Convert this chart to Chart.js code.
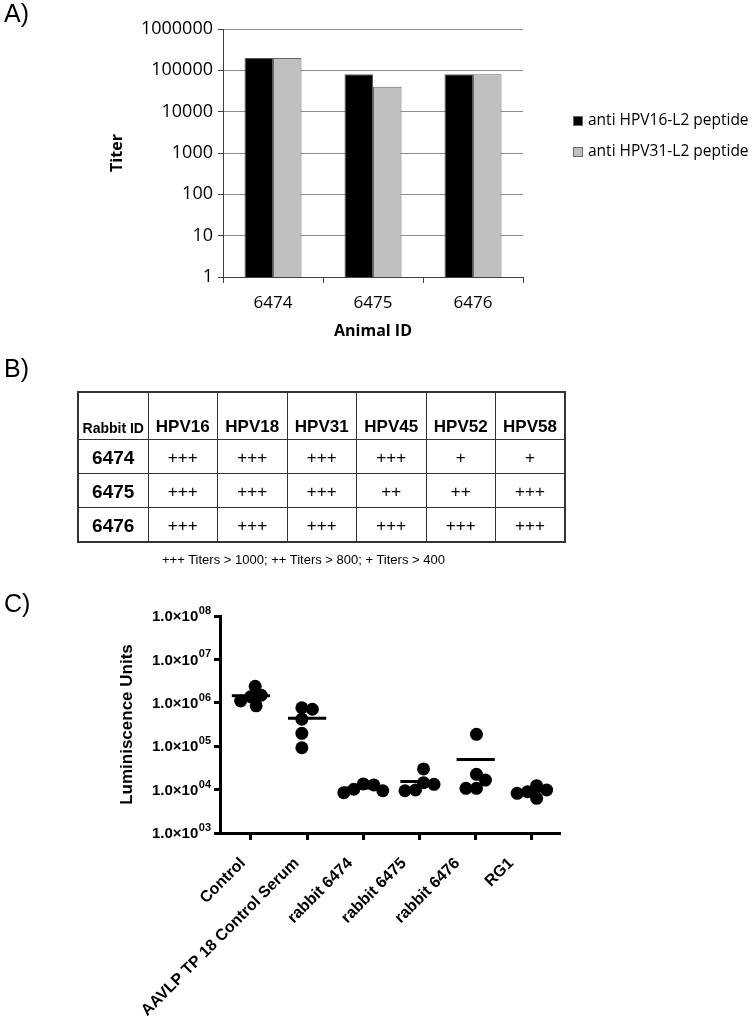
<!DOCTYPE html>
<html>
<head>
<meta charset="utf-8">
<script src="https://cdn.jsdelivr.net/npm/chart.js@4.4.1/dist/chart.umd.min.js"></script>
<style>
  html, body { margin: 0; padding: 0; background: #fff; }
  #page { position: relative; width: 752px; height: 1021px; overflow: hidden; background: #fff; }
  .panel { position: absolute; font-family: "Liberation Sans", Arial, sans-serif; font-size: 25px; line-height: 1; color: #000; filter: grayscale(1); }
  canvas { position: absolute; display: block; }
  #tbl { position: absolute; left: 77px; top: 391px; border-collapse: collapse; font-family: "Liberation Sans", Arial, sans-serif; color: #000; table-layout: fixed; filter: grayscale(1); }
  #tbl td { border: 1px solid #333; text-align: center; padding: 0; }
  #tbl tr.head td { height: 43px; vertical-align: bottom; padding-bottom: 2px; font-weight: bold; font-size: 17px; }
  #tbl tr.head td.rid { font-size: 14px; padding-bottom: 3px; }
  #tbl tr.row td { height: 31px; font-size: 17px; vertical-align: middle; padding-top: 2px; }
  #tbl tr.row td.rid { font-weight: bold; font-size: 19px; }
  #note { position: absolute; left: 162px; top: 552px; font-family: "Liberation Sans", Arial, sans-serif; font-size: 13px; color: #000; white-space: nowrap; filter: grayscale(1); }
</style>
</head>
<body>
<div id="page">
  <div class="panel" style="left:4px;top:1px;">A)</div>
  <div class="panel" style="left:4px;top:356px;">B)</div>
  <div class="panel" style="left:4px;top:591px;">C)</div>
  <canvas id="chartA" width="752" height="345" style="left:0;top:0;"></canvas>
  <table id="tbl"></table>
  <div id="note"></div>
  <canvas id="chartC" width="752" height="431" style="left:0;top:590px;"></canvas>
</div>
<script>
// ---------- Panel A data ----------
const animalIds = ['6474', '6475', '6476'];
const antiHPV16L2 = [200000, 80000, 80000];
const antiHPV31L2 = [200000, 40000, 80000];
const seriesNames = ['anti HPV16-L2 peptide', 'anti HPV31-L2 peptide'];
const titerTicks = [1, 10, 100, 1000, 10000, 100000, 1000000];

// ---------- Panel B data ----------
const hpvTypes = ['HPV16', 'HPV18', 'HPV31', 'HPV45', 'HPV52', 'HPV58'];
const rabbitIds = ['6474', '6475', '6476'];
const rabbit6474Titers = ['+++', '+++', '+++', '+++', '+', '+'];
const rabbit6475Titers = ['+++', '+++', '+++', '++', '++', '+++'];
const rabbit6476Titers = ['+++', '+++', '+++', '+++', '+++', '+++'];
const tableNote = '+++ Titers > 1000; ++ Titers > 800; + Titers > 400';

// ---------- Panel C data ----------
const groupNames = ['Control', 'AAVLP TP 18 Control Serum', 'rabbit 6474', 'rabbit 6475', 'rabbit 6476', 'RG1'];
const controlValues = [1380000, 2400000, 850000, 1500000, 1100000];
const aavlpValues = [770000, 710000, 420000, 198000, 92000];
const rabbit6474Values = [10200, 13500, 8500, 12800, 9400];
const rabbit6475Values = [13200, 29900, 9400, 14400, 9800];
const rabbit6476Values = [188000, 16600, 22500, 10700, 10700];
const rg1Values = [8950, 12300, 6300, 9800, 8200];
const lumTicks = [1e3, 1e4, 1e5, 1e6, 1e7, 1e8];

Chart.defaults.animation = false;
Chart.defaults.devicePixelRatio = 1;
Chart.defaults.plugins.tooltip.enabled = false;

// ================= Panel A =================
const sideLegend = {
  id: 'sideLegend',
  afterDraw(chart) {
    const { ctx, chartArea } = chart;
    ctx.save();
    ctx.font = '15.5px "Open Sans"';
    ctx.textBaseline = 'middle';
    ctx.textAlign = 'left';
    chart.data.datasets.forEach((ds, i) => {
      const x = chartArea.right + 50;
      const y = chartArea.top + 92 + i * 31;
      ctx.fillStyle = ds.backgroundColor;
      ctx.fillRect(x, y - 5, 10, 10);
      ctx.strokeStyle = '#6a6a6a';
      ctx.lineWidth = 1;
      ctx.strokeRect(x + 0.5, y - 4.5, 9, 9);
      ctx.fillStyle = '#000';
      ctx.fillText(ds.label, x + 15, y);
    });
    ctx.restore();
  }
};

new Chart(document.getElementById('chartA'), {
  type: 'bar',
  data: {
    labels: animalIds,
    datasets: [
      { label: seriesNames[0], data: antiHPV16L2, backgroundColor: '#000000', borderColor: '#5a5a5a', borderWidth: 1 },
      { label: seriesNames[1], data: antiHPV31L2, backgroundColor: '#c0c0c0', borderColor: '#6a6a6a', borderWidth: 1 }
    ]
  },
  options: {
    responsive: false,
    layout: { padding: { left: 100, right: 229, top: 29, bottom: 0 } },
    datasets: { bar: { categoryPercentage: 0.57, barPercentage: 1.0 } },
    plugins: { legend: { display: false } },
    scales: {
      x: {
        offset: true,
        grid: { offset: true, drawOnChartArea: false, drawTicks: true, tickLength: 6, color: '#404040', lineWidth: 1 },
        border: { display: true, color: '#404040', width: 1 },
        ticks: { color: '#000', font: { family: 'Open Sans', size: 17 }, padding: 10 },
        title: { display: true, text: 'Animal ID', color: '#000', font: { family: 'Open Sans', size: 16, weight: 'bold' }, padding: { top: 0, bottom: 4 } },
        afterFit: s => { s.height = 68; }
      },
      y: {
        type: 'logarithmic',
        min: 1, max: 1000000,
        afterBuildTicks: s => { s.ticks = titerTicks.map(v => ({ value: v })); },
        grid: { color: '#8c8c8c', lineWidth: 1, drawTicks: true, tickLength: 5, tickColor: '#404040' },
        border: { display: true, color: '#404040', width: 1 },
        ticks: { color: '#000', font: { family: 'Open Sans', size: 18 }, padding: 5, callback: v => String(v) },
        title: { display: true, text: 'Titer', color: '#000', font: { family: 'Open Sans', size: 16, weight: 'bold' }, padding: { top: 8, bottom: 0 } },
        afterFit: s => { s.width = 123; }
      }
    }
  },
  plugins: [sideLegend]
});

// ================= Panel B =================
(function buildTable() {
  const tbl = document.getElementById('tbl');
  const colgroup = document.createElement('colgroup');
  const c0 = document.createElement('col'); c0.style.width = '70px'; colgroup.appendChild(c0);
  hpvTypes.forEach(() => { const c = document.createElement('col'); c.style.width = '69.5px'; colgroup.appendChild(c); });
  tbl.appendChild(colgroup);
  const head = document.createElement('tr'); head.className = 'head';
  const h0 = document.createElement('td'); h0.className = 'rid'; h0.textContent = 'Rabbit ID'; head.appendChild(h0);
  hpvTypes.forEach(t => { const td = document.createElement('td'); td.textContent = t; head.appendChild(td); });
  tbl.appendChild(head);
  const rows = [rabbit6474Titers, rabbit6475Titers, rabbit6476Titers];
  rows.forEach((vals, r) => {
    const tr = document.createElement('tr'); tr.className = 'row';
    const td0 = document.createElement('td'); td0.className = 'rid'; td0.textContent = rabbitIds[r]; tr.appendChild(td0);
    vals.forEach(v => { const td = document.createElement('td'); td.textContent = v; tr.appendChild(td); });
    tbl.appendChild(tr);
  });
  tbl.style.border = '2px solid #333';
  document.getElementById('note').textContent = tableNote;
})();

// ================= Panel C =================
const groupValues = [controlValues, aavlpValues, rabbit6474Values, rabbit6475Values, rabbit6476Values, rg1Values];
const mean = a => a.reduce((s, v) => s + v, 0) / a.length;
const POINT_R = 6.5;

const supLabels = {
  id: 'supLabels',
  afterDraw(chart) {
    const ys = chart.scales.y;
    const { ctx } = chart;
    ctx.save();
    ctx.fillStyle = '#000';
    ctx.textBaseline = 'middle';
    ys.ticks.forEach(t => {
      const y = ys.getPixelForValue(t.value);
      const exp = String(Math.round(Math.log10(t.value))).padStart(2, '0');
      const right = ys.right - 9;
      ctx.font = 'bold 11px "Liberation Sans"';
      const wSup = ctx.measureText(exp).width;
      ctx.textAlign = 'left';
      ctx.fillText(exp, right - wSup, y - 5);
      ctx.font = 'bold 15px "Liberation Sans"';
      ctx.textAlign = 'right';
      ctx.fillText('1.0\u00d710', right - wSup - 0.5, y + 1);
    });
    ctx.restore();
  }
};

const pointSets = groupValues.map((vals, gi) => ({
  type: 'scatter',
  label: groupNames[gi],
  data: vals.map(v => ({ x: gi, y: v })),
  backgroundColor: '#000',
  borderColor: '#000',
  pointRadius: POINT_R,
  pointHoverRadius: POINT_R,
  borderWidth: 0,
  showLine: false
}));
const meanLine = {
  type: 'line',
  label: 'mean',
  data: groupValues.flatMap((vals, gi) => [
    { x: gi - 0.34, y: mean(vals) },
    { x: gi + 0.34, y: mean(vals) },
    { x: gi + 0.5, y: null }
  ]),
  borderColor: '#000',
  borderWidth: 3,
  pointRadius: 0,
  spanGaps: false,
  fill: false
};

const groupTicks = s => { s.ticks = groupNames.map((_, i) => ({ value: i })); };

const chartC = new Chart(document.getElementById('chartC'), {
  type: 'scatter',
  data: { datasets: [...pointSets, meanLine] },
  options: {
    responsive: false,
    layout: { padding: { left: 110, right: 192, top: 26, bottom: 0 } },
    plugins: { legend: { display: false } },
    scales: {
      x: {
        type: 'linear',
        weight: 0,
        min: -0.55, max: 5.5,
        afterBuildTicks: groupTicks,
        grid: { drawOnChartArea: false, drawTicks: true, tickLength: 7, tickWidth: 3, tickColor: '#000', color: '#000' },
        border: { display: true, color: '#000', width: 3 },
        ticks: { display: false },
        afterFit: s => { s.height = 7; }
      },
      xLabels: {
        type: 'linear',
        position: 'bottom',
        weight: 1,
        min: -0.43, max: 5.913,
        afterBuildTicks: groupTicks,
        grid: { display: false },
        border: { display: false },
        ticks: {
          autoSkip: false, maxRotation: 45, minRotation: 45, padding: 6,
          color: '#000', font: { family: 'Liberation Sans', size: 16, weight: 'bold' },
          callback: v => groupNames[v] !== undefined ? groupNames[v] : ''
        },
        afterFit: s => { s.height = 181; }
      },
      y: {
        type: 'logarithmic',
        min: 1e3, max: 1e8,
        afterBuildTicks: s => { s.ticks = lumTicks.map(v => ({ value: v })); },
        grid: { drawOnChartArea: false, drawTicks: true, tickLength: 6, tickWidth: 3, tickColor: '#000', color: '#000' },
        border: { display: true, color: '#000', width: 3 },
        ticks: { display: false },
        title: { display: true, text: 'Luminiscence Units', color: '#000', font: { family: 'Liberation Sans', size: 17, weight: 'bold' }, padding: { top: 7, bottom: 0 } },
        afterFit: s => { s.width = 110; }
      }
    }
  },
  plugins: [supLabels]
});

// Spread overlapping points sideways (scatter dot plot), measured through the chart's scales
(function swarm(chart) {
  const xs = chart.scales.x, ys = chart.scales.y;
  const unit = xs.getPixelForValue(1) - xs.getPixelForValue(0);
  const minDist = 10.5;
  groupValues.forEach((vals, gi) => {
    const order = vals.map((_, i) => i).sort((a, b) => vals[b] - vals[a]);
    const offs = new Array(vals.length).fill(0);
    const placed = [];
    order.forEach(i => {
      const py = ys.getPixelForValue(vals[i]);
      for (let k = 0; k < 400; k++) {
        const dx = (k % 2 ? 1 : -1) * Math.ceil(k / 2) * 0.5;
        if (placed.every(p => Math.hypot(p.x - dx, p.y - py) >= minDist)) {
          offs[i] = dx; placed.push({ x: dx, y: py }); break;
        }
      }
    });
    const shift = (Math.max(...offs) + Math.min(...offs)) / 2;
    chart.data.datasets[gi].data = vals.map((v, i) => ({ x: gi + (offs[i] - shift) / unit, y: v }));
  });
  chart.update();
})(chartC);
</script>
</body>
</html>
